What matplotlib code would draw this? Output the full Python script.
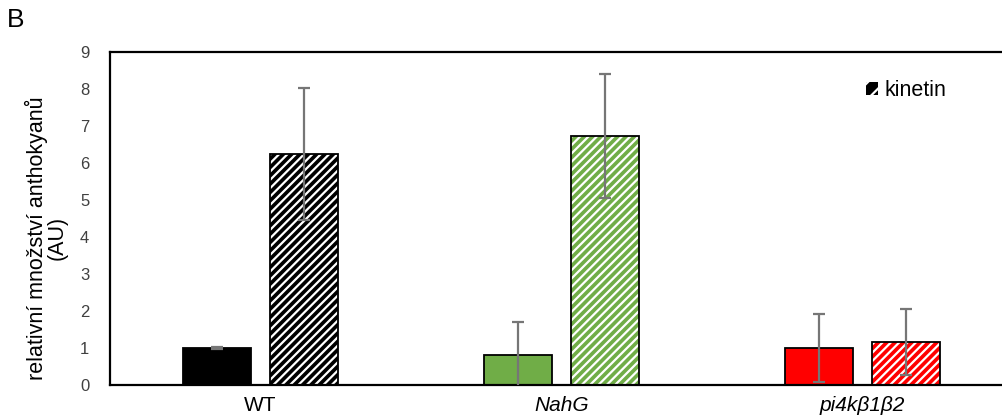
import numpy as np
import matplotlib.pyplot as plt
from matplotlib.patches import Patch

plt.switch_backend('agg')
plt.rcParams['font.family'] = ['Liberation Sans', 'DejaVu Sans']
plt.rcParams['hatch.linewidth'] = 1.6

genotypes = ['WT', 'NahG', 'pi4kβ1β2']
colors = ['#000000', '#70AD47', '#FF0000']
control = [1.00, 0.81, 1.00]
control_err = [0.03, 0.89, 0.92]
kinetin = [6.24, 6.73, 1.16]
kinetin_err = [1.79, 1.68, 0.89]

fig = plt.figure(figsize=(10.03, 4.19), dpi=100)
ax = fig.add_axes([110 / 1003, 34 / 419, 903 / 1003, 333 / 419])

x = np.arange(len(genotypes))
width = 0.225
offset = 0.144

# control bars: solid fill
ax.bar(x - offset, control, width, color=colors, edgecolor='black', linewidth=1.3, zorder=2)

# kinetin bars: white diagonal stripes over the fill, then a black outline
ax.bar(x + offset, kinetin, width, color=colors, edgecolor='white', hatch='////',
       linewidth=0, zorder=2)
ax.bar(x + offset, kinetin, width, fill=False, edgecolor='black', linewidth=1.3, zorder=3)

err_style = dict(fmt='none', ecolor='#767676', elinewidth=1.6, capsize=4, capthick=1.6, zorder=4)
ax.errorbar(x - offset, control, yerr=control_err, **err_style)
ax.errorbar(x + offset, kinetin, yerr=kinetin_err, **err_style)

ax.set_xlim(-0.5, 2.5)
ax.set_ylim(0, 9)
ax.set_yticks(range(10))
ax.set_xticks(x)
ax.set_xticklabels(genotypes, fontsize=15)
for lbl in ax.get_xticklabels()[1:]:
    lbl.set_style('italic')
ax.tick_params(axis='both', length=0, colors='#404040')
ax.tick_params(axis='x', pad=8, labelcolor='black')
ax.tick_params(axis='y', pad=15, labelsize=12)

for side in ['left', 'top', 'bottom']:
    ax.spines[side].set_linewidth(1.6)
ax.spines['right'].set_visible(False)

ax.set_ylabel('relativní množství anthokyanů\n(AU)', fontsize=15.5, linespacing=0.95)
ax.yaxis.set_label_coords(-42 / 903, 147 / 333)

handle = Patch(facecolor='black', edgecolor='white', hatch='//', linewidth=0)
fig.legend([handle], ['kinetin'], loc='center left', bbox_to_anchor=(866 / 1003, 1 - 91 / 419),
           frameon=False, fontsize=15.5, handlelength=0.55, handleheight=0.55,
           handletextpad=0.3, borderpad=0, borderaxespad=0)

fig.text(7 / 1003, 1 - 20 / 419, 'B', fontsize=19, va='center', ha='left')

fig.savefig('out.png', dpi=100)
plt.close(fig)
